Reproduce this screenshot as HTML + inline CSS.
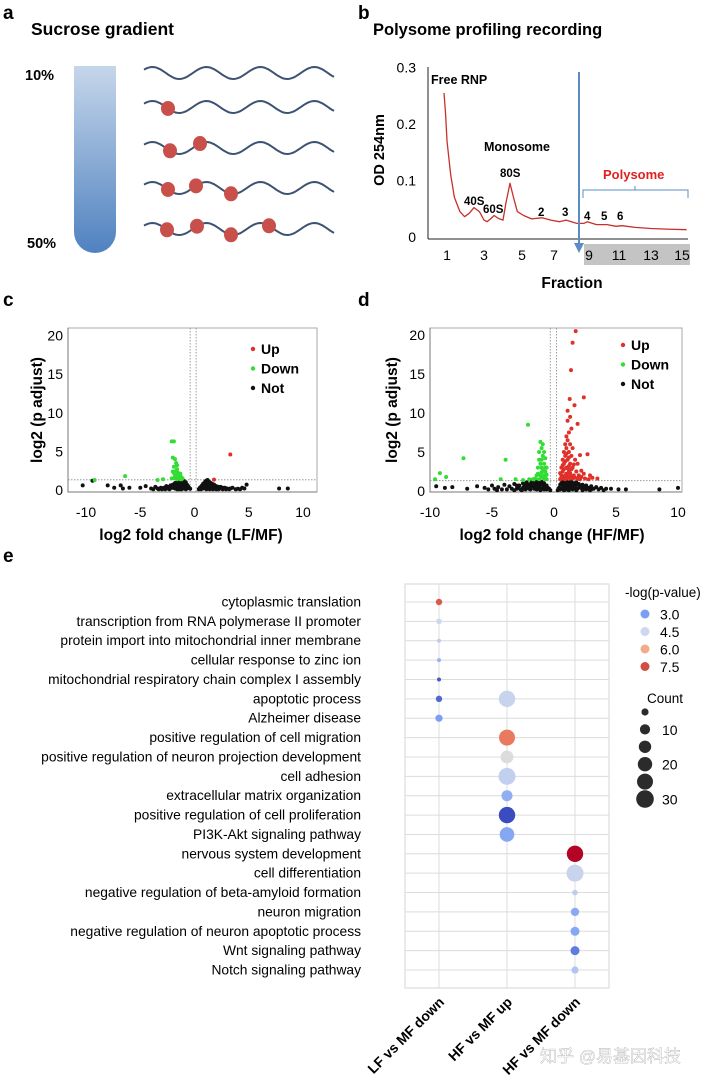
<!DOCTYPE html>
<html><head><meta charset="utf-8"><style>
html,body{margin:0;padding:0;background:#fff;}
svg{display:block;font-family:"Liberation Sans","Noto Sans CJK SC",sans-serif;}
.b{font-weight:bold;}
</style></head><body>
<svg id="fig" width="708" height="1084" viewBox="0 0 708 1084" xmlns="http://www.w3.org/2000/svg">
<defs>
<linearGradient id="tubeGrad" x1="0" y1="0" x2="0" y2="1">
<stop offset="0" stop-color="#c6d6ea"/><stop offset="1" stop-color="#4f82c0"/>
</linearGradient>
</defs>
<g>
<text x="3" y="19" class="b" font-size="19">a</text>
<text x="31" y="35" class="b" font-size="17.5">Sucrose gradient</text>
<text x="25" y="80" class="b" font-size="14.5">10%</text>
<text x="27" y="248" class="b" font-size="14.5">50%</text>
<path d="M74 66 H116 V232 A21 21 0 0 1 74 232 Z" fill="url(#tubeGrad)"/>
<g id="waves"></g>
</g>
<g id="panelB">
<text x="358" y="19" class="b" font-size="19">b</text>
<text x="373" y="35" class="b" font-size="16.5">Polysome profiling recording</text>
</g>
<g id="panelC">
<text x="3" y="306" class="b" font-size="19">c</text>
</g>
<g id="panelD">
<text x="358" y="306" class="b" font-size="19">d</text>
</g>
<g id="panelE">
<text x="3" y="562" class="b" font-size="19">e</text>
</g>
<text x="540" y="1062" font-size="17" fill="#ffffff" stroke="#999" stroke-width="0.3">知乎 @易基因科技</text>
</svg>
<script>
const NS='http://www.w3.org/2000/svg';
function mk(parent,tag,attrs,text){const e=document.createElementNS(NS,tag);for(const k in attrs)e.setAttribute(k,attrs[k]);if(text!==undefined)e.textContent=text;parent.appendChild(e);return e;}

// ---------- Panel a: waves ----------
const waveRows=[73,107,148,188,229];
const riboX=[[],[168],[170,200],[168,196,231],[167,197,231,269]];
const wg=document.getElementById('waves');
waveRows.forEach((cy,i)=>{
  let d='';
  for(let x=144;x<=334;x+=2){const y=cy-6*Math.sin((x-144)/54*2*Math.PI+0.6);d+=(x===144?'M':'L')+x+' '+y.toFixed(1);}
  const p=mk(wg,'path',{d:d,fill:'none',stroke:'#3d5373','stroke-width':2});
  
  
  riboX[i].forEach(rx=>{const ry=cy-6*Math.sin((rx-144)/54*2*Math.PI+0.6);
    const c=mk(wg,'ellipse',{cx:rx,cy:ry,rx:7,ry:7.5,fill:'#c9504a'});
    
    });
});

// ---------- Panel b: polysome profile ----------
const fracs=[0.84,0.92,1.0,1.2,1.4,1.7,1.95,2.2,2.46,2.75,3.0,3.16,3.35,3.53,3.75,4.0,4.15,4.37,4.55,4.75,5.1,5.6,6.25,6.8,7.3,7.69,8.3,8.7,8.9,9.5,10.2,10.8,11.2,12,13,14,15.3];
const odVals=[0.255,0.22,0.17,0.11,0.07,0.045,0.036,0.042,0.052,0.045,0.03,0.027,0.032,0.038,0.033,0.03,0.06,0.095,0.07,0.045,0.038,0.032,0.034,0.03,0.027,0.03,0.024,0.024,0.027,0.022,0.022,0.019,0.02,0.017,0.015,0.014,0.013];
const bTicksY=[0,0.1,0.2,0.3];
const bTicksX=[1,3,5,7,9,11,13,15];
// fraction axis is the instrument's (slightly non-uniform) scale: anchor pixel per tick
const bAxisAnchors=[[1,447],[3,484],[5,522],[7,554],[9,589],[11,619],[13,651],[15,682]];
function bx(f){const A=bAxisAnchors;let i=0;if(f<=A[0][0])i=0;else if(f>=A[A.length-1][0])i=A.length-2;else while(f>A[i+1][0])i++;
 const a=A[i],b=A[i+1];return a[1]+(f-a[0])*(b[1]-a[1])/(b[0]-a[0]);}
const by=v=>237-v*565;
(function(){
 const g=document.getElementById('panelB');
 let a=mk(g,'line',{x1:428,y1:67,x2:428,y2:239,stroke:'#222','stroke-width':1});
 
 a=mk(g,'line',{x1:428,y1:239,x2:688,y2:239,stroke:'#222','stroke-width':1});
 
 mk(g,'rect',{x:584,y:244,width:106,height:21,fill:'#c4c4c4'});
 bTicksY.forEach(v=>{const t=mk(g,'text',{x:416,y:by(v)+5,'font-size':14,'text-anchor':'end'},v===0?'0':v.toFixed(1));
   });
 bTicksX.forEach(v=>{const t=mk(g,'text',{x:bx(v),y:260,'font-size':14,'text-anchor':'middle'},String(v));
   });
 let d='';fracs.forEach((f,i)=>{d+=(i?'L':'M')+bx(f).toFixed(1)+' '+by(odVals[i]).toFixed(1);});
 const c=mk(g,'path',{d:d,fill:'none',stroke:'#c8302c','stroke-width':1.3,'stroke-linejoin':'round'});
 
 const arr=mk(g,'line',{x1:579,y1:72,x2:579,y2:244,stroke:'#5b8cc4','stroke-width':2});
 
 mk(g,'path',{d:'M574 243 L584 243 L579 253 Z',fill:'#5b8cc4'});
 const yt=mk(g,'text',{x:0,y:0,'font-size':14.5,'font-weight':'bold','text-anchor':'middle',transform:'translate(384,150) rotate(-90)'},'OD 254nm');
 
 const xt=mk(g,'text',{x:572,y:288,'font-size':15.5,'font-weight':'bold','text-anchor':'middle'},'Fraction');
 
 const labs=[['Free RNP',431,84,12.5],['Monosome',484,151,12.5],['80S',500,177,11.5],['40S',464,205,11.5],['60S',483,213,11.5],['2',538,216,11.5],['3',562,216,11.5],['4',584,220,11.5],['5',601,220,11.5],['6',617,220,11.5]];
 labs.forEach(l=>{const t=mk(g,'text',{x:l[1],y:l[2],'font-size':l[3],'font-weight':'bold'},l[0]);
   });
 const pt=mk(g,'text',{x:603,y:179,'font-size':13,'font-weight':'bold',fill:'#e02020'},'Polysome');
 
 mk(g,'path',{d:'M583 198 L583 190 L688 190 L688 198 M635 190 L635 186',fill:'none',stroke:'#5b8cc4','stroke-width':1});
})();

// ---------- Volcano data ----------
const cUp=[[3.3,4.6],[1.8,1.35]];
const cDown=[[-2.1,6.3],[-1.9,6.3],[-2.0,4.2],[-1.8,4.0],[-1.7,3.5],[-1.9,3.0],[-1.6,3.2],[-1.7,2.5],[-1.5,2.2],[-1.4,2.0],[-1.3,1.8],[-1.2,1.6],[-1.5,1.6],[-1.8,1.8],[-2.0,2.4],[-1.1,1.5],[-1.6,1.4],[-6.4,1.8],[-9.2,1.3],[-3.4,1.3],[-2.9,1.4],[-1.4,1.5],[-1.7,1.6],[-1.9,2.2],[-1.3,1.4],[-1.6,2.7],[-1.5,1.9],[-1.2,1.4],[-1.8,1.5],[-1.4,1.7],[-1.6,2.0],[-2.1,1.5],[-1.3,2.1]];
const cNot=[[-10.3,0.6],[-9.4,1.2],[-8,0.6],[-7.4,0.3],[-6.8,0.6],[-6.6,0.2],[-6,0.3],[-5,0.3],[-4.5,0.5],[-4,0.2],[-3.6,0.4],[-3.4,0.2],[-3.1,0.3],[-2.8,0.3],[-2.6,0.5],[-2.4,0.4],[-2.2,0.6],[-2.0,0.7],[-1.9,0.4],[-1.8,0.9],[-1.7,0.6],[-1.6,1.0],[-1.5,0.7],[-1.4,1.2],[-1.3,0.9],[-1.2,1.3],[-1.1,1.0],[-1.0,1.2],[-0.9,0.9],[-0.8,1.0],[-0.7,0.7],[-0.6,0.5],[-0.5,0.3],[-0.4,0.15],[-2.5,0.2],[-2.0,0.3],[-1.5,0.3],[-1.2,0.5],[-1.0,0.6],[-0.8,0.4],[-1.8,0.2],[-1.4,0.1],[-1.0,0.2],[-0.7,0.2],[-2.3,0.1],[-3.0,0.1],[-1.6,0.5],[-1.3,0.2],[-1.1,0.4],[-0.9,0.3],[-2.1,0.3],[-1.7,0.2],
 [-1.9,0.7],[-1.7,0.9],[-1.5,1.1],[-1.3,1.2],[-1.1,0.8],[-0.9,0.6],[-2.2,0.3],[-2.4,0.2],[-2.7,0.1],[-1.6,0.1],[-1.2,0.1],[-0.8,0.1],[-0.6,0.3],[-1.4,0.8],[-1.2,0.9],[-1.0,0.9],[-2.0,0.5],[-1.8,0.4],[-3.3,0.1],[-3.8,0.1],
 [0.4,0.1],[0.5,0.3],[0.6,0.4],[0.7,0.6],[0.8,0.8],[0.9,0.9],[1.0,1.1],[1.1,1.2],[1.2,1.3],[1.3,1.1],[1.4,1.0],[1.5,0.9],[1.6,0.8],[1.7,0.7],[1.8,0.7],[2.0,0.5],[2.2,0.4],[2.4,0.4],[2.6,0.3],[2.8,0.3],[3,0.2],[3.3,0.2],[3.5,0.3],[4,0.15],[4.4,0.3],[4.8,0.7],[1,0.4],[1.3,0.5],[1.6,0.3],[2,0.2],[0.7,0.2],[0.9,0.3],[1.1,0.6],[1.2,0.2],[1.4,0.4],[1.5,0.2],[1.8,0.3],[2.2,0.1],[2.6,0.1],[3.8,0.1],[7.8,0.2],[8.6,0.2],
 [0.6,0.1],[0.8,0.2],[1.0,0.7],[1.2,0.8],[1.3,0.8],[1.5,0.6],[1.7,0.4],[1.9,0.5],[2.1,0.3],[2.4,0.2],[2.9,0.1],[1.1,0.1],[1.4,0.1],[1.7,0.1],[2.0,0.1],[3.2,0.1],[4.2,0.1],[4.6,0.2]];
const dUp=[[1.75,20.5],[1.5,19],[1.37,15.5],[2.4,12],[1.27,11.8],[1.65,11],[1.1,10.3],[1.9,8.6],[2.1,4.6],[2.7,4.7],[2.4,2.2],[3.5,1.6],[1.1,9],[1.3,9.5],[1.4,8],[1.2,7.5],[1.0,7],[1.1,6.5],[1.3,6],[0.9,6],[1.5,5.5],[1.0,5.5],[1.2,5],[0.8,5],[1.4,4.5],[0.9,4.5],[0.7,4],[1.1,4],[1.7,4],[0.8,3.5],[1.3,3.5],[1.9,3.5],[0.6,3],[1.0,3],[1.5,3],[0.7,2.5],[1.2,2.5],[1.8,2.5],[0.6,2],[1.6,2],[2.0,2],[0.5,1.5],[2.2,1.8],[2.5,1.6],[2.8,1.5],[0.7,1.6],[0.9,2],[1.1,1.7],[1.3,1.6],[0.5,2.3],[0.8,1.8],[1.5,1.6],[1.0,2.2],[1.2,3.2],[0.9,3.8],[1.4,2.8],[1.6,3.4],[2.2,2.6],[2.9,2.0],[3.1,1.7],[1.2,4.3],[1.0,4.8],[1.1,2.9],[0.6,1.8],[0.8,2.8],[0.7,3.3],[1.0,1.6],[1.2,1.9],[1.4,1.9],[1.7,1.7],[1.9,1.6],[2.1,1.5],[1.3,2.3],[0.9,1.5]];
const dDown=[[-2.1,8.5],[-3.9,4],[-7.3,4.2],[-9.2,2.3],[-8.7,1.8],[-9.6,1.5],[-4.3,1.5],[-0.6,1.5],[-0.7,2.5],[-0.8,3.5],[-0.9,4.5],[-1.0,5.5],[-1.1,6.3],[-1.2,4],[-1.3,3],[-1.4,2],[-0.8,2],[-1.0,3],[-1.1,2],[-0.6,3],[-0.7,4.2],[-1.5,1.6],[-1.7,1.5],[-2,1.5],[-1.2,5],[-0.9,6],[-1.0,4],[-0.8,5],[-1.3,2.2],[-0.7,1.8],[-1.1,3.5],[-0.9,2.6],[-2.5,1.4],[-3.1,1.5],[-0.6,2.1],[-0.8,1.6],[-1.0,1.8],[-1.2,1.5],[-1.0,2.4],[-0.7,3.0]];
const dNot=[[-9.5,0.6],[-8.8,0.4],[-8.2,0.5],[-7,0.3],[-6.2,0.6],[-5.6,0.4],[-5,0.7],[-4.5,0.5],[-4,0.8],[-3.6,0.6],[-3.2,0.9],[-2.8,0.7],[-2.5,1.0],[-2.2,1.1],[-2,0.8],[-1.8,1.2],[-1.6,1.0],[-1.4,1.2],[-1.2,1.1],[-1.0,1.2],[-0.8,1.0],[-0.6,0.7],[-0.4,0.3],[-0.3,0.1],[-3,0.3],[-2.5,0.4],[-2,0.3],[-1.5,0.5],[-1.2,0.6],[-1,0.3],[-0.8,0.5],[-0.6,0.2],[-1.8,0.6],[-2.3,0.2],[-3.8,0.2],[-4.6,0.1],[-1.4,0.2],[-0.9,0.8],[-1.6,0.3],[-2.7,0.2],
 [-3.4,0.3],[-2.9,0.5],[-2.4,0.6],[-2.1,0.5],[-1.9,0.9],[-1.7,0.7],[-1.3,0.8],[-1.1,0.9],[-0.9,0.4],[-0.7,0.6],[-0.5,0.4],[-1.9,0.2],[-1.3,0.3],[-1.1,0.1],[-0.8,0.2],[-2.6,0.1],[-3.2,0.1],[-4.2,0.2],[-5.3,0.2],[-4.8,0.3],[-3.0,0.7],[-2.2,0.8],[-1.5,0.8],
 [0.3,0.1],[0.4,0.4],[0.5,0.8],[0.6,1.0],[0.7,1.2],[0.8,1.1],[1.0,1.2],[1.2,1.1],[1.4,1.2],[1.6,1.0],[1.8,1.1],[2.0,0.9],[2.3,0.8],[2.6,0.7],[3.0,0.6],[3.4,0.5],[3.8,0.4],[4.2,0.3],[4.6,0.3],[5.2,0.2],[5.8,0.2],[0.6,0.3],[0.9,0.5],[1.1,0.7],[1.3,0.4],[1.6,0.5],[1.9,0.3],[2.2,0.4],[2.6,0.2],[3,0.2],[1,0.2],[1.5,0.2],[0.8,0.7],[1.2,0.8],[1.7,0.7],[2.4,0.5],[3.6,0.2],[8.5,0.2],[10,0.4],
 [0.5,0.2],[0.7,0.4],[0.9,0.9],[1.1,0.4],[1.3,0.9],[1.5,0.7],[1.7,0.4],[1.9,0.8],[2.1,0.6],[2.5,0.4],[2.8,0.4],[3.2,0.3],[4.0,0.1],[0.8,0.1],[1.2,0.1],[1.8,0.1],[2.3,0.1],[2.9,0.1]];
const volTicksX=[-10,-5,0,5,10];
const volTicksY=[0,5,10,15,20];

function volcano(gid,cfg,up,down,not){
 const g=document.getElementById(gid);
 const X=v=>cfg.x0+v*cfg.sx, Y=v=>cfg.y0-v*cfg.sy;
 const box=mk(g,'rect',{x:cfg.L,y:cfg.T,width:cfg.R-cfg.L,height:cfg.B-cfg.T,fill:'none',stroke:'#aaa','stroke-width':1});
 
 const ax=mk(g,'path',{d:`M${cfg.L} ${cfg.T} V${cfg.B} H${cfg.R}`,fill:'none',stroke:'#777','stroke-width':1});
 
 volTicksY.forEach(v=>{const t=mk(g,'text',{x:cfg.L-5,y:Y(v)+5,'font-size':14,'text-anchor':'end'},String(v));
   });
 volTicksX.forEach(v=>{const t=mk(g,'text',{x:X(v),y:517,'font-size':14,'text-anchor':'middle'},String(v));
   });
 const dash={stroke:'#888','stroke-width':0.8,'stroke-dasharray':'1.5 1.5'};
 let l=mk(g,'line',Object.assign({x1:cfg.L,x2:cfg.R,y1:Y(1.32),y2:Y(1.32)},dash));
 
 cfg.vl.forEach(v=>{const q=mk(g,'line',Object.assign({x1:X(v),x2:X(v),y1:cfg.T,y2:cfg.B},dash));
   });
 const draw=(arr,col,name)=>arr.forEach(p=>{const c=mk(g,'circle',{cx:X(p[0]).toFixed(1),cy:Y(p[1]).toFixed(1),r:2,fill:col});
   });
 draw(not,'#111','point-not');draw(down,'#33dd33','point-down');draw(up,'#e0302a','point-up');
 const yt=mk(g,'text',{x:0,y:0,'font-size':15.5,'font-weight':'bold','text-anchor':'middle',transform:`translate(${cfg.ytx},410) rotate(-90)`},'log2 (p adjust)');
 
 const xt=mk(g,'text',{x:cfg.xtc,y:540,'font-size':15.5,'font-weight':'bold','text-anchor':'middle'},cfg.xtitle);
 
 [['Up','#e0302a',0],['Down','#33dd33',1],['Not','#111',2]].forEach(e=>{
   const yy=cfg.ly+e[2]*19.5;
   const c=mk(g,'circle',{cx:cfg.lx,cy:yy-5,r:2.2,fill:e[1]});
   
   const t=mk(g,'text',{x:cfg.lx+8,y:yy,'font-size':14,'font-weight':'bold'},e[0]);
   });
}
volcano('panelC',{L:68,R:317,T:328,B:492,x0:194.5,sx:10.85,y0:490,sy:7.72,vl:[-0.4,0.15],ytx:42,xtc:191,xtitle:'log2 fold change (LF/MF)',lx:253,ly:354},cUp,cDown,cNot);
volcano('panelD',{L:430,R:682,T:328,B:492,x0:554,sx:12.4,y0:491,sy:7.8,vl:[-0.3,0.2],ytx:397,xtc:552,xtitle:'log2 fold change (HF/MF)',lx:623,ly:350},dUp,dDown,dNot);

// ---------- Panel e: GO bubble ----------
const terms=['cytoplasmic translation','transcription from RNA polymerase II promoter','protein import into mitochondrial inner membrane','cellular response to zinc ion','mitochondrial respiratory chain complex I assembly','apoptotic process','Alzheimer disease','positive regulation of cell migration','positive regulation of neuron projection development','cell adhesion','extracellular matrix organization','positive regulation of cell proliferation','PI3K-Akt signaling pathway','nervous system development','cell differentiation','negative regulation of beta-amyloid formation','neuron migration','negative regulation of neuron apoptotic process','Wnt signaling pathway','Notch signaling pathway'];
const groups=['LF vs MF down','HF vs MF up','HF vs MF down'];
const bubbleTerm=[0,1,2,3,4,5,5,6,7,8,9,10,11,12,13,14,15,16,17,18,19];
const bubbleGroup=[0,0,0,0,0,0,1,0,1,1,1,1,1,1,2,2,2,2,2,2,2];
const bubbleLogP=[7.3,4.5,4.2,3.5,2.0,2.2,4.4,3.0,6.8,5.0,4.3,3.4,1.8,3.2,8.3,4.4,4.2,3.3,3.2,2.5,4.0];
const bubbleCount=[4,3,1.5,1.5,1.5,4,26,5,25,16,28,12,26,21,26,28,3,7,8,8,5];
const legendP=[3.0,4.5,6.0,7.5];
const legendCount=[5,10,15,20,25,30];
const legendCountLabels=['','10','','20','','30'];
const colStops=[[1.8,[59,76,192]],[3.0,[123,159,244]],[4.5,[205,216,238]],[5.0,[221,220,220]],[6.0,[242,172,140]],[7.0,[229,110,85]],[7.5,[208,78,66]],[8.3,[180,4,38]]];
function pcol(v){if(v<=colStops[0][0])return 'rgb('+colStops[0][1]+')';
 for(let i=1;i<colStops.length;i++){if(v<=colStops[i][0]){const a=colStops[i-1],b=colStops[i],t=(v-a[0])/(b[0]-a[0]);
  return 'rgb('+a[1].map((c,k)=>Math.round(c+(b[1][k]-c)*t)).join(',')+')';}}
 return 'rgb('+colStops[colStops.length-1][1]+')';}
const rad=c=>1.6*Math.sqrt(c);
(function(){
 const g=document.getElementById('panelE');
 const L=405,R=609,T=584,B=988;
 const ex=i=>439+i*68, ey=i=>602+i*19.37;
 const bg=mk(g,'rect',{x:L,y:T,width:R-L,height:B-T,fill:'#fff',stroke:'#d6d6d6','stroke-width':1});
 
 terms.forEach((t,i)=>{const l=mk(g,'line',{x1:L,x2:R,y1:ey(i),y2:ey(i),stroke:'#dcdcdc','stroke-width':1});
  
  const tx=mk(g,'text',{x:361,y:ey(i)+4.5,'font-size':13.8,'text-anchor':'end'},t);
  });
 groups.forEach((gr,i)=>{const l=mk(g,'line',{x1:ex(i),x2:ex(i),y1:T,y2:B,stroke:'#dcdcdc','stroke-width':1});
  
  const t=mk(g,'text',{x:0,y:0,'font-size':14,'font-weight':'bold','text-anchor':'end',transform:`translate(${ex(i)+6},1003) rotate(-45)`},gr);
  });
 bubbleTerm.forEach((ti,k)=>{const c=mk(g,'circle',{cx:ex(bubbleGroup[k]),cy:ey(ti),r:rad(bubbleCount[k]).toFixed(1),fill:pcol(bubbleLogP[k])});
  });
 let t=mk(g,'text',{x:625,y:597,'font-size':13.5},'-log(p-value)');
 
 legendP.forEach((v,i)=>{const y=614+i*17.5;
  const c=mk(g,'circle',{cx:645,cy:y,r:4.5,fill:pcol(v)});
  
  const tt=mk(g,'text',{x:660,y:y+5.5,'font-size':14},v.toFixed(1));
  });
 t=mk(g,'text',{x:647,y:703,'font-size':13.5},'Count');
 
 legendCount.forEach((v,i)=>{const y=712+i*17.4;
  const c=mk(g,'circle',{cx:645,cy:y,r:rad(v).toFixed(1),fill:'#2b2b2b'});
  
  if(legendCountLabels[i]){const tt=mk(g,'text',{x:662,y:y+5.5,'font-size':14},legendCountLabels[i]);
   }});
})();
</script>
</body></html>
